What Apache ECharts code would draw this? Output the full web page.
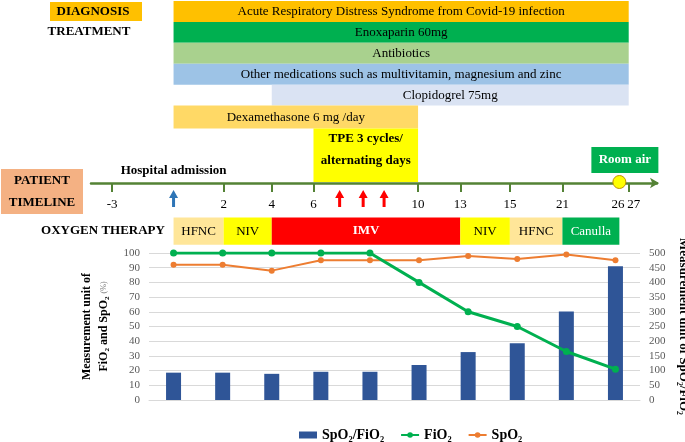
<!DOCTYPE html>
<html><head><meta charset="utf-8">
<script src="https://cdn.jsdelivr.net/npm/echarts@6/dist/echarts.min.js"></script>
<style>html,body{margin:0;padding:0;background:#fff}#c{width:685px;height:442px}</style>
</head><body><div id="c"></div>
<script>
// ================= DATA =================
const measurementSlots = ['1', '2', '3', '4', '5', '6', '7', '8', '9', '10'];
const spo2FiO2 = [93, 93, 89, 96, 96, 119, 163, 193, 301, 455];
const fio2 = [100, 100, 100, 100, 100, 80, 60, 50, 33, 21];
const spo2 = [92, 92, 88, 95, 95, 95, 98, 96, 99, 95];

const timelineDays = [-3, 0, 2, 4, 6, 10, 13, 15, 21, 26, 27];
const timelineTickDays = [-3, 2, 4, 6, 10, 13, 15, 21, 27];
const timelineLabelDays = [-3, 2, 4, 6, 10, 13, 15, 21, 26, 27];

const treatmentNames = [
  'Acute Respiratory Distress Syndrome from Covid-19 infection',
  'Enoxaparin 60mg',
  'Antibiotics',
  'Other medications such as multivitamin, magnesium and zinc',
  'Clopidogrel 75mg',
  'Dexamethasone 6 mg /day',
  'TPE 3 cycles/\nalternating days'
];
const treatmentStart = [0, 0, 0, 0, 4, 0, 6];
const treatmentEnd = [27, 27, 27, 27, 27, 10, 10];

const oxygenModes = ['HFNC', 'NIV', 'IMV', 'NIV', 'HFNC', 'Canulla'];
const oxygenStart = [0, 2, 4, 13, 15, 21];
const oxygenEnd = [2, 4, 13, 15, 21, 26];

const admissionDay = 0;
const tpeDays = [7, 7.9, 8.7];
const roomAirDay = 26;

// ================= LAYOUT / STYLE =================
const FONT = '"Liberation Serif", "Times New Roman", serif';
// schematic (non-linear) timeline: where each timeline day sits, in measurement-slot units
const timelineSlotPos = [-1.25, 0, 1.02, 2.0, 2.85, 4.98, 5.84, 6.85, 7.92, 9.08, 9.27];
function daySlot(d) {
  const D = timelineDays, S = timelineSlotPos;
  let i = 0;
  while (i < D.length - 2 && d > D[i + 1]) i++;
  const t = (d - D[i]) / (D[i + 1] - D[i]);
  return S[i] + t * (S[i + 1] - S[i]);
}
const G0 = {left: 149, width: 491, top: 253, height: 147};
const slotW = G0.width / measurementSlots.length;
const G1 = {left: 91, width: 566, top: 1, height: 182};
const topMin = -0.5 + (G1.left - G0.left) / slotW;
const topMax = -0.5 + (G1.left + G1.width - G0.left) / slotW;

const treatmentRows = [[0, 1], [1, 2], [2, 3], [3, 4], [4, 5], [5, 6.1], [6.1, 8.7]];
const treatmentColors = ['#FFC000', '#00B050', '#A9D18E', '#9DC3E6', '#DAE3F3', '#FFD966', '#FFFF00'];
const oxygenRow = [10.35, 11.65];
const oxygenColors = {HFNC: '#FFE699', NIV: '#FFFF00', IMV: '#FF0000', Canulla: '#00B050'};
const AXIS_ROW = 8.7;

const chart = echarts.init(document.getElementById('c'), null, {renderer: 'canvas'});

function arrowShape(x, y, color) {
  return {
    type: 'polygon',
    shape: {points: [[x, y + 7], [x + 4.5, y + 15], [x + 1.5, y + 15], [x + 1.5, y + 24], [x - 1.5, y + 24], [x - 1.5, y + 15], [x - 4.5, y + 15]]},
    style: {fill: color}
  };
}

const labelSlots = timelineLabelDays.map(daySlot);

const option = {
  animation: false,
  textStyle: {fontFamily: FONT},
  grid: [
    {left: G0.left, width: G0.width, top: G0.top, height: G0.height, containLabel: false, outerBoundsMode: 'none'},
    {left: G1.left, width: G1.width, top: G1.top, height: G1.height, containLabel: false, outerBoundsMode: 'none'}
  ],
  xAxis: [
    {type: 'category', gridIndex: 0, data: measurementSlots,
     axisLabel: {show: false}, axisTick: {show: false},
     axisLine: {lineStyle: {color: '#D9D9D9'}}},
    {type: 'value', gridIndex: 1, min: topMin, max: topMax, position: 'bottom',
     axisLine: {show: true, onZero: false, symbol: ['none', 'arrow'], symbolSize: [8, 9], symbolOffset: [0, 2],
       lineStyle: {color: '#548235', width: 2.5}},
     axisTick: {show: true, customValues: timelineTickDays.map(daySlot), length: 9, lineStyle: {color: '#548235', width: 2}},
     axisLabel: {customValues: labelSlots, margin: 15, color: '#000', fontSize: 13, fontFamily: FONT, hideOverlap: false,
       rich: {l: {fontSize: 13, fontFamily: FONT, color: '#000', padding: [0, 3, 0, 0]},
              r: {fontSize: 13, fontFamily: FONT, color: '#000', padding: [0, 0, 0, 10]}},
       formatter: function (v) {
         const k = labelSlots.findIndex(s => Math.abs(s - v) < 1e-6);
         if (k < 0) return '';
         const d = timelineLabelDays[k];
         if (k === timelineLabelDays.length - 1) return '{r|' + d + '}';
         if (k === timelineLabelDays.length - 2) return '{l|' + d + '}';
         return String(d);
       }},
     splitLine: {show: false}}
  ],
  yAxis: [
    {type: 'value', gridIndex: 0, min: 0, max: 100, interval: 10, position: 'left',
     axisLine: {show: false}, axisTick: {show: false},
     axisLabel: {color: '#595959', fontSize: 11, fontFamily: FONT, margin: 9},
     splitLine: {lineStyle: {color: '#D9D9D9'}},
     name: 'Measurement unit of\nFiO₂ and SpO₂ {s|(%)}', nameLocation: 'middle', nameRotate: 90, nameGap: 37,
     nameTextStyle: {fontWeight: 'bold', fontSize: 12, color: '#000', fontFamily: FONT, lineHeight: 17,
       rich: {s: {fontSize: 8, fontWeight: 'normal', color: '#777'}}}},
    {type: 'value', gridIndex: 0, min: 0, max: 500, interval: 50, position: 'right',
     axisLine: {show: false}, axisTick: {show: false},
     axisLabel: {color: '#595959', fontSize: 11, fontFamily: FONT, margin: 9},
     splitLine: {show: false},
     name: 'Measurement unit of SpO₂/FiO₂', nameLocation: 'middle', nameRotate: -90, nameGap: 36,
     nameTextStyle: {fontWeight: 'bold', fontSize: 13, color: '#000', fontFamily: FONT}},
    {type: 'value', gridIndex: 1, min: 0, max: AXIS_ROW, inverse: true, show: false}
  ],
  legend: {
    left: 294, top: 423, itemWidth: 18, itemHeight: 7, itemGap: 16,
    textStyle: {fontWeight: 'bold', fontSize: 14, color: '#000', fontFamily: FONT},
    data: [{name: 'SpO₂/FiO₂', icon: 'rect'}, {name: 'FiO₂'}, {name: 'SpO₂'}]
  },
  graphic: [
    {type: 'rect', shape: {x: 50, y: 2, width: 92, height: 19}, style: {fill: '#FFC000'}},
    {type: 'text', x: 93, y: 12, style: {text: 'DIAGNOSIS', font: 'bold 13px ' + FONT, fill: '#000', align: 'center', verticalAlign: 'middle'}},
    {type: 'text', x: 89, y: 32, style: {text: 'TREATMENT', font: 'bold 13px ' + FONT, fill: '#000', align: 'center', verticalAlign: 'middle'}},
    {type: 'rect', shape: {x: 1, y: 169, width: 82, height: 45}, style: {fill: '#F4B183'}},
    {type: 'text', x: 42, y: 181, style: {text: 'PATIENT', font: 'bold 13px ' + FONT, fill: '#000', align: 'center', verticalAlign: 'middle'}},
    {type: 'text', x: 42, y: 203, style: {text: 'TIMELINE', font: 'bold 13px ' + FONT, fill: '#000', align: 'center', verticalAlign: 'middle'}},
    {type: 'text', x: 103, y: 231, style: {text: 'OXYGEN THERAPY', font: 'bold 13px ' + FONT, fill: '#000', align: 'center', verticalAlign: 'middle'}}
  ],
  series: [
    {name: 'SpO₂/FiO₂', type: 'bar', xAxisIndex: 0, yAxisIndex: 1, data: spo2FiO2, barWidth: 15,
     itemStyle: {color: '#2F5597'}, z: 2},
    {name: 'FiO₂', type: 'line', xAxisIndex: 0, yAxisIndex: 0, data: fio2, symbol: 'circle', symbolSize: 7,
     lineStyle: {color: '#00B050', width: 3}, itemStyle: {color: '#00B050'}, z: 4},
    {name: 'SpO₂', type: 'line', xAxisIndex: 0, yAxisIndex: 0, data: spo2, symbol: 'circle', symbolSize: 6,
     lineStyle: {color: '#ED7D31', width: 2}, itemStyle: {color: '#ED7D31'}, z: 3},
    // treatments
    {name: 'treatments', type: 'custom', xAxisIndex: 1, yAxisIndex: 2, clip: false, silent: true,
     data: treatmentStart.map((s, i) => [daySlot(s), daySlot(treatmentEnd[i]), i]),
     encode: {x: [0, 1]},
     renderItem: function (params, api) {
       const i = api.value(2);
       const a = api.coord([api.value(0), treatmentRows[i][0]]);
       const b = api.coord([api.value(1), treatmentRows[i][1]]);
       const isTPE = i === treatmentNames.length - 1;
       return {type: 'group', children: [
         {type: 'rect', shape: {x: a[0], y: a[1], width: b[0] - a[0], height: b[1] - a[1] - (isTPE ? 1 : 0)}, style: {fill: treatmentColors[i]}},
         {type: 'text', style: {text: treatmentNames[i], x: (a[0] + b[0]) / 2,
           y: isTPE ? (a[1] + b[1]) / 2 - 6 : (a[1] + b[1]) / 2,
           align: 'center', verticalAlign: 'middle', lineHeight: 22,
           font: (isTPE ? 'bold ' : '') + '13px ' + FONT, fill: '#000'}}
       ]};
     }},
    // oxygen therapy
    {name: 'oxygen', type: 'custom', xAxisIndex: 1, yAxisIndex: 2, clip: false, silent: true,
     data: oxygenStart.map((s, i) => [daySlot(s), daySlot(oxygenEnd[i]), i]),
     encode: {x: [0, 1]},
     renderItem: function (params, api) {
       const i = api.value(2);
       const m = oxygenModes[i];
       const a = api.coord([api.value(0), oxygenRow[0]]);
       const b = api.coord([api.value(1), oxygenRow[1]]);
       const white = m === 'IMV' || m === 'Canulla';
       return {type: 'group', children: [
         {type: 'rect', shape: {x: a[0], y: a[1], width: b[0] - a[0], height: b[1] - a[1]}, style: {fill: oxygenColors[m]}},
         {type: 'text', style: {text: m, x: (a[0] + b[0]) / 2, y: (a[1] + b[1]) / 2, align: 'center', verticalAlign: 'middle',
           font: (m === 'IMV' ? 'bold ' : '') + '13px ' + FONT, fill: white ? '#fff' : '#000'}}
       ]};
     }},
    // events on timeline
    {name: 'events', type: 'custom', xAxisIndex: 1, yAxisIndex: 2, clip: false, silent: true, z: 5,
     data: [[daySlot(admissionDay), 0]].concat(tpeDays.map(d => [daySlot(d), 1])).concat([[daySlot(roomAirDay), 2]]),
     encode: {x: 0},
     renderItem: function (params, api) {
       const kind = api.value(1);
       const p = api.coord([api.value(0), AXIS_ROW]);
       if (kind === 0) {
         return {type: 'group', children: [
           arrowShape(p[0], p[1], '#2E75B6'),
           {type: 'text', style: {text: 'Hospital admission', x: p[0], y: p[1] - 12, align: 'center', verticalAlign: 'middle',
             font: 'bold 13px ' + FONT, fill: '#000'}}
         ]};
       }
       if (kind === 1) return arrowShape(p[0], p[1], '#FF0000');
       return {type: 'group', children: [
         {type: 'rect', shape: {x: p[0] - 28, y: p[1] - 36, width: 67, height: 26}, style: {fill: '#00B050'}},
         {type: 'text', style: {text: 'Room air', x: p[0] + 5.5, y: p[1] - 23, align: 'center', verticalAlign: 'middle',
           font: 'bold 13px ' + FONT, fill: '#fff'}},
         {type: 'circle', shape: {cx: p[0], cy: p[1] - 1, r: 6.5}, style: {fill: '#FFFF00', stroke: '#BF9000', lineWidth: 1}}
       ]};
     }}
  ]
};
chart.setOption(option);
</script>
</body></html>
